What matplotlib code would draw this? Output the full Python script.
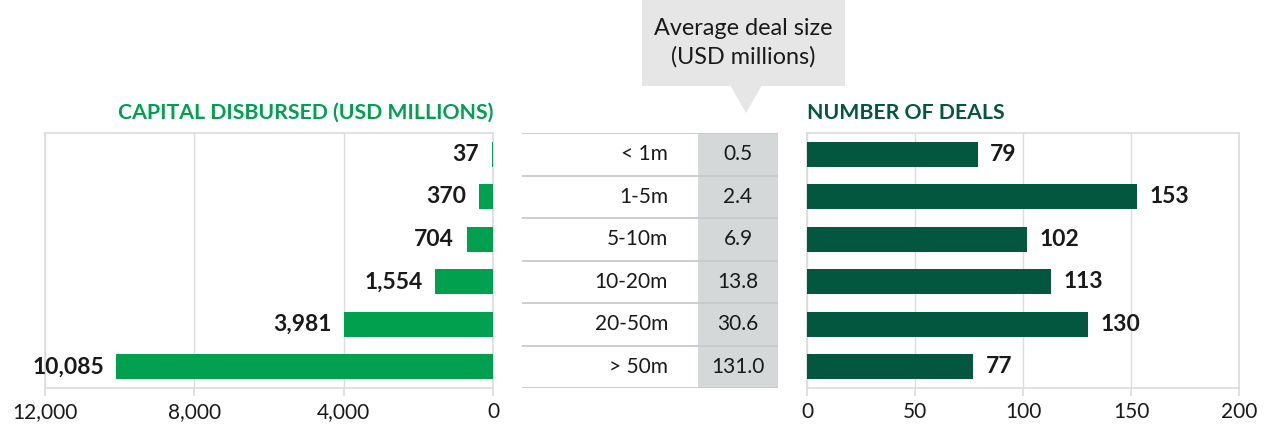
import matplotlib.pyplot as plt
from matplotlib.patches import Rectangle, Polygon

plt.rcParams['font.family'] = ['Lato', 'DejaVu Sans']

# Datos
categories = ['< 1m', '1-5m', '5-10m', '10-20m', '20-50m', '> 50m']
capital = [37, 370, 704, 1554, 3981, 10085]
avg_size = [0.5, 2.4, 6.9, 13.8, 30.6, 131.0]
deals = [79, 153, 102, 113, 130, 77]
capital_ticks = [12000, 8000, 4000, 0]
deals_ticks = [0, 50, 100, 150, 200]

GREEN = '#00a04f'
DARK_GREEN = '#03573f'
GRID = '#dcdcdc'
TEXT = '#1a1a1a'

W, H = 1268, 425
fig = plt.figure(figsize=(W / 100, H / 100), dpi=100)


def px_axes(x0, x1, y0, y1):
    # caja en pixeles (y desde arriba) -> fracciones de figura
    return fig.add_axes([x0 / W, 1 - y1 / H, (x1 - x0) / W, (y1 - y0) / H])


ypos = list(range(len(categories)))


def style_axes(ax, ticks):
    ax.set_ylim(len(categories) - 0.5, -0.5)
    ax.set_yticks([])
    ax.set_xticks(ticks)
    ax.grid(axis='x', color=GRID, linewidth=1)
    ax.set_axisbelow(True)
    for s in ax.spines.values():
        s.set_color(GRID)
        s.set_linewidth(1.2)
        s.set_zorder(0.5)
    ax.tick_params(axis='x', length=6, width=1.2, color=GRID, labelsize=15,
                   labelcolor=TEXT, pad=4)


# Panel izquierdo: capital desembolsado
ax1 = px_axes(45, 493, 133, 388)
b1 = ax1.barh(ypos, capital, height=0.58, color=GREEN, zorder=3)
ax1.set_xlim(12000, 0)
style_axes(ax1, capital_ticks)
ax1.set_xticklabels([f'{t:,}' for t in capital_ticks])
ax1.bar_label(b1, labels=[f'{v:,}' for v in capital], padding=9,
              fontsize=16.5, fontweight='bold', color=TEXT)
ax1.set_title('CAPITAL DISBURSED (USD MILLIONS)', loc='right', color=GREEN,
              fontsize=15.3, fontweight='bold', pad=10)

# Panel derecho: número de operaciones
ax2 = px_axes(807, 1239, 133, 388)
b2 = ax2.barh(ypos, deals, height=0.58, color=DARK_GREEN, zorder=3)
ax2.set_xlim(0, 200)
style_axes(ax2, deals_ticks)
ax2.bar_label(b2, padding=9, fontsize=16.5, fontweight='bold', color=TEXT)
ax2.set_title('NUMBER OF DEALS', loc='left', color=DARK_GREEN,
              fontsize=15.3, fontweight='bold', pad=10)

# Tabla central
ax3 = px_axes(522, 778, 133, 388)
ax3.set_xlim(0, 256)
ax3.set_ylim(len(categories), 0)
ax3.axis('off')
ax3.add_patch(Rectangle((176, 0), 80, len(categories), color='#d5d8d8', lw=0))
for i in range(len(categories) + 1):
    ax3.axhline(i, color='#c6caca', linewidth=1.3)
for i, (cat, v) in enumerate(zip(categories, avg_size)):
    ax3.text(146, i + 0.5, cat, ha='right', va='center', fontsize=15, color=TEXT)
    ax3.text(216, i + 0.5, f'{v:.1f}', ha='center', va='center', fontsize=15,
             color=TEXT)

# Cartel "Average deal size"
ov = fig.add_axes([0, 0, 1, 1], zorder=-1)
ov.set_xlim(0, W)
ov.set_ylim(H, 0)
ov.axis('off')
ov.add_patch(Rectangle((642, 0), 203, 86, color='#e6e6e6', lw=0))
ov.add_patch(Polygon([(730, 85), (762, 85), (746, 113)], closed=True,
                     color='#e6e6e6', lw=0))
ov.text(743, 43, 'Average deal size\n(USD millions)', ha='center', va='center',
        fontsize=16.8, color=TEXT, linespacing=1.4)

fig.savefig('out.png', dpi=100)
